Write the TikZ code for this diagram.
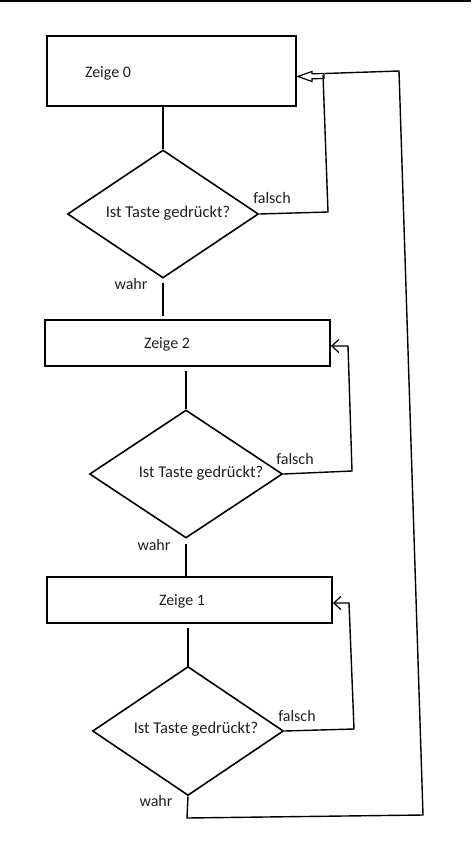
\documentclass[tikz,border=0pt]{standalone}
\usepackage{fontspec}
\setmainfont{Carlito}
\usetikzlibrary{arrows.meta,shapes.geometric,calc}
\tikzset{
  box/.style={draw, line width=1.9pt, rectangle, inner sep=0pt},
  dia/.style={draw, line width=1.6pt, diamond, inner sep=0pt},
  txt/.style={font=\fontsize{16}{18}\selectfont, inner sep=0pt, text=black!88},
  qtxt/.style={font=\fontsize{16.5}{18}\selectfont, inner sep=0pt, text=black!88},
  conn/.style={line width=1.4pt, line join=miter},
  barb/.style={-{Straight Barb[length=7pt,width=13pt,line width=1.2pt]}}
}
\begin{document}
\begin{tikzpicture}[x=1pt,y=-1pt]
\useasboundingbox (0,0) rectangle (471,864);
% top rule
\draw[line width=1.6pt] (0,0.8) -- (471,0.8);
% boxes
\node[box, minimum width=249pt, minimum height=70pt] (b1) at (171.5,71) {};
\node[box, minimum width=285pt, minimum height=46pt] (b2) at (187.5,343) {};
\node[box, minimum width=285pt, minimum height=46pt] (b3) at (189.5,600) {};
\node[txt] (t1) at (108,73) {Zeige 0};
\node[txt] (t2) at (167,344) {Zeige 2};
\node[txt] (t3) at (182,601) {Zeige 1};
% diamonds
\node[dia, minimum width=191pt, minimum height=128pt] (d1) at (163,214) {};
\node[dia, minimum width=193pt, minimum height=128pt] (d2) at (186,474) {};
\node[dia, minimum width=191pt, minimum height=129pt] (d3) at (188,731) {};
\node[qtxt] (q1) at (168,213) {Ist Taste gedrückt?};
\node[qtxt] (q2) at (201,473) {Ist Taste gedrückt?};
\node[qtxt] (q3) at (196,729) {Ist Taste gedrückt?};
% labels
\node[txt] (f1) at (272,198) {falsch};
\node[txt] (f2) at (295,459) {falsch};
\node[txt] (f3) at (297,716) {falsch};
\node[txt] (w1) at (131,284) {wahr};
\node[txt] (w2) at (154,545) {wahr};
\node[txt] (w3) at (156,801) {wahr};
% vertical connectors
\draw[conn] (d1.north |- b1.south) -- (d1.north);
\draw[conn, shorten <=4pt, shorten >=3pt] (d1.south) -- (d1.south |- b2.north);
\draw[conn, shorten <=4pt] (d2.north |- b2.south) -- (d2.north);
\draw[conn, shorten <=5pt] (d2.south) -- (d2.south |- b3.north);
\draw[conn, shorten <=4pt] (d3.north |- b3.south) -- (d3.north);
% false branches
\coordinate (a1) at (328,212);
\coordinate (a2) at (323,75);
\draw[conn] (d1.east) -- (a1) -- (a2);
\coordinate (c1) at (352,471);
\coordinate (c2) at (348,346);
\draw[conn, barb] (d2.east) -- (c1) -- (c2) -- ($(b2.east)+(0,3)$);
\coordinate (e1) at (354,729);
\coordinate (e2) at (349,603);
\draw[conn, barb] (d3.east) -- (e1) -- (e2) -- ($(b3.east)+(0,3)$);
% main loop back
\coordinate (l1) at (187,818);
\coordinate (l2) at (423,815);
\coordinate (l3) at (399,71);
\coordinate (l4) at (325,73.5);
\draw[conn] (d3.south) -- (l1) -- (l2) -- (l3) -- (l4);
% hollow block arrow into box 1
\draw[line width=1.2pt, line join=miter]
  ($(b1.east)+(1,5.5)$) -- ++(14,-5) -- ++(0,2.3) -- ++(12,-0.3) -- ++(0,5)
  -- ++(-12,0.3) -- ++(0,2.7) -- cycle;
\end{tikzpicture}
\end{document}
